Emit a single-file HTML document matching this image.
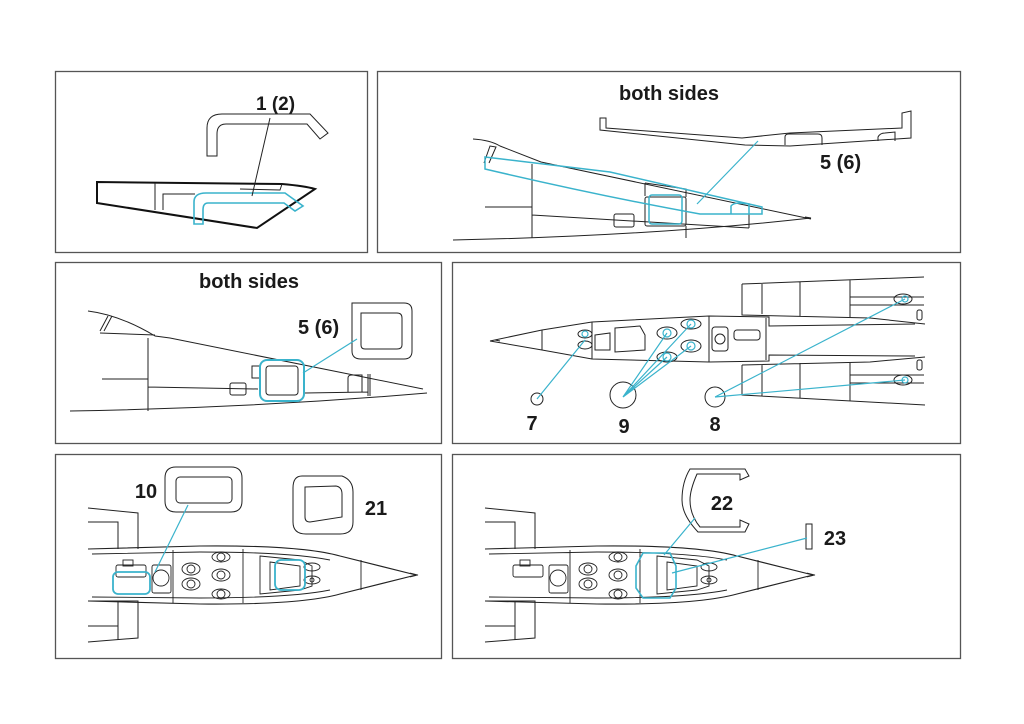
<!DOCTYPE html>
<html><head><meta charset="utf-8"><style>
html,body{margin:0;padding:0;background:#fff;}
svg{display:block}
text{font-family:"Liberation Sans",Arial,sans-serif;font-weight:bold;fill:#1a1a1a}
</style></head><body>
<svg width="1024" height="724" viewBox="0 0 1024 724" xmlns="http://www.w3.org/2000/svg">
<defs>
<g id="top">
  <!-- pods -->
  <path d="M88,508 L138,513 L138,549 M88,522 L118,522 L118,549 M88,601 L138,601 L138,638 L88,642 M118,601 L118,640 M88,626 L118,626" fill="none" stroke="#222" stroke-width="1"/>
  <!-- fuselage -->
  <path d="M88,549 L200,546 Q300,545 340,556 L416,575 L340,594 Q300,605 200,604 L88,601" fill="none" stroke="#222" stroke-width="1.1"/>
  <path d="M92,554 L200,552 Q290,552 330,560 M92,597 L200,598 Q290,598 330,590 M173,550 L173,603 M243,549 L243,603 M361,560 L361,590 M410,573 L418,575 L410,577" fill="none" stroke="#222" stroke-width="0.9"/>
  <path d="M260,556 L300,560 L312,566 L312,586 L300,590 L260,594 Z M270,562 L300,566 L300,586 L270,590 Z" fill="none" stroke="#222" stroke-width="0.9"/>
  <g fill="none" stroke="#222" stroke-width="0.9">
    <ellipse cx="221" cy="557" rx="9" ry="5"/><ellipse cx="221" cy="557" rx="4" ry="4"/>
    <ellipse cx="191" cy="569" rx="9" ry="6"/><ellipse cx="191" cy="569" rx="4" ry="4"/>
    <ellipse cx="221" cy="575" rx="9" ry="6"/><ellipse cx="221" cy="575" rx="4" ry="4"/>
    <ellipse cx="191" cy="584" rx="9" ry="6"/><ellipse cx="191" cy="584" rx="4" ry="4"/>
    <ellipse cx="221" cy="594" rx="9" ry="5"/><ellipse cx="221" cy="594" rx="4" ry="4"/>
    <ellipse cx="312" cy="567" rx="8" ry="4"/><ellipse cx="312" cy="580" rx="8" ry="4"/><circle cx="312" cy="580" r="2"/>
    <circle cx="161" cy="578" r="8"/>
    <rect x="152" y="565" width="19" height="28" rx="2"/>
    <rect x="116" y="565" width="30" height="12" rx="2"/>
    <rect x="123" y="560" width="10" height="6"/>
  </g>
</g>
</defs>

<!-- panel frames -->
<g fill="none" stroke="#555" stroke-width="1.3">
<rect x="55.5" y="71.5" width="312" height="181"/>
<rect x="377.5" y="71.5" width="583" height="181"/>
<rect x="55.5" y="262.5" width="386" height="181"/>
<rect x="452.5" y="262.5" width="508" height="181"/>
<rect x="55.5" y="454.5" width="386" height="204"/>
<rect x="452.5" y="454.5" width="508" height="204"/>
</g>

<!-- PANEL 1 -->
<text x="256" y="110" font-size="19">1 (2)</text>
<path d="M207,156 L207,128 Q207,114 222,114 L310,114 L328,133 L320,139 L307,124 L226,124 Q217,124 217,134 L217,156 Z" fill="none" stroke="#222" stroke-width="1"/>
<path d="M97,182 L282,184 Q305,186 315,189 L257,228 L97,203 Z" fill="none" stroke="#111" stroke-width="2"/>
<path d="M155,183 L155,210 M163,210 L163,194 L195,194 M282,184 L280,190 L240,189" fill="none" stroke="#222" stroke-width="1"/>
<path d="M194,224 L194,202 Q194,193 206,193 L285,193 L303,206 L295,211 L284,203 L208,203 Q203,203 203,210 L203,224 Z" fill="none" stroke="#3ab3cc" stroke-width="1.6"/>
<line x1="270" y1="118" x2="252" y2="196" stroke="#222" stroke-width="1"/>

<!-- PANEL 2 -->
<text x="669" y="100" font-size="20" text-anchor="middle">both sides</text>
<path d="M600,118 L606,118 L606,128 L742,138 L790,133 L902,128 L902,113 L911,111 L911,138 L790,146 L745,145 L600,130 Z" fill="none" stroke="#222" stroke-width="1"/>
<path d="M785,145 L785,137 Q785,134 789,134 L818,134 Q822,134 822,138 L822,145 M878,141 L878,137 Q880,133 885,133 L895,132 L895,141" fill="none" stroke="#222" stroke-width="1"/>
<text x="820" y="169" font-size="20">5 (6)</text>
<g fill="none" stroke="#222" stroke-width="1">
<path d="M453,240 Q650,236 811,218 L805,217"/>
<path d="M473,139 Q490,140 500,146 L541,162 L811,219"/>
<path d="M484,163 L490,146 L496,147 L489,163"/>
<path d="M532,164 L532,238 M485,207 L532,207 M532,215 L749,228 M749,204 L749,228 M686,226 L686,238"/>
<rect x="614" y="214" width="20" height="13" rx="2"/>
<rect x="645" y="197" width="41" height="29" rx="2"/>
<path d="M645,183 L645,196 M645,183 L686,189 L686,197"/>
</g>
<path d="M485,157 L610,172 L762,207 L762,214 L700,214 Q600,196 485,169 Z" fill="none" stroke="#3ab3cc" stroke-width="1.5"/>
<rect x="649" y="195" width="33" height="29" rx="3" fill="none" stroke="#3ab3cc" stroke-width="1.5"/>
<path d="M731,214 L731,206 Q733,203 740,203 L749,204 L749,214" fill="none" stroke="#3ab3cc" stroke-width="1.5"/>
<line x1="758" y1="141" x2="697" y2="204" stroke="#3ab3cc" stroke-width="1.2"/>

<!-- PANEL 3 -->
<text x="249" y="288" font-size="20" text-anchor="middle">both sides</text>
<g fill="none" stroke="#222" stroke-width="1">
<path d="M70,411 Q250,408 427,393"/>
<path d="M88,311 Q120,315 155,336 L170,338 L423,389"/>
<path d="M100,331 L108,316 M104,331 L112,316 M100,333 L155,335"/>
<path d="M148,338 L148,411 M102,379 L148,379 M148,387 L258,389 M305,393 L368,392 M368,374 L368,396 M370,374 L370,396"/>
<rect x="230" y="383" width="16" height="12" rx="2"/>
<rect x="252" y="366" width="8" height="12"/>
<path d="M348,392 L348,378 Q348,375 352,375 L362,375 L362,392"/>
<path d="M352,303 L404,303 Q412,303 412,311 L412,351 Q412,359 404,359 L361,359 Q352,359 352,351 Z"/>
<path d="M361,313 L397,313 Q402,313 402,318 L402,345 Q402,349 397,349 L365,349 Q361,349 361,345 Z"/>
<rect x="266" y="366" width="32" height="29" rx="3"/>
</g>
<rect x="260" y="360" width="44" height="41" rx="7" fill="none" stroke="#3ab3cc" stroke-width="2"/>
<text x="298" y="334" font-size="20">5 (6)</text>
<line x1="357" y1="339" x2="303" y2="373" stroke="#3ab3cc" stroke-width="1.2"/>

<!-- PANEL 4 -->
<g fill="none" stroke="#222" stroke-width="1">
<path d="M490,341 L542,330 L592,322 L709,316 L769,317 L769,326 L915,324"/>
<path d="M490,341 L542,350 L592,359 L709,362 L769,361 L769,355 L915,356"/>
<path d="M495,340 L500,341 M542,330 L542,350 M592,322 L592,359 M709,316 L709,362 M766,318 L766,360"/>
<path d="M742,284 L924,277 M742,284 L742,315 L870,318 L925,324 M762,284 L762,314 M800,282 L800,316 M850,280 L850,317 M850,297 L924,297 M850,305 L924,305"/>
<path d="M742,365 L870,362 L925,357 M742,365 L742,395 L925,405 M762,365 L762,396 M800,363 L800,398 M850,362 L850,401 M850,375 L924,375 M850,383 L924,383"/>
<rect x="917" y="310" width="5" height="10" rx="2"/><rect x="917" y="360" width="5" height="10" rx="2"/>
<path d="M615,328 L640,326 L645,335 L645,350 L615,352 Z M595,335 L610,333 L610,350 L595,350 Z"/>
<rect x="712" y="327" width="16" height="24" rx="3"/><circle cx="720" cy="339" r="5"/>
<rect x="734" y="330" width="26" height="10" rx="3"/>
<ellipse cx="585" cy="334" rx="7" ry="4"/><ellipse cx="585" cy="345" rx="7" ry="4"/>
<ellipse cx="667" cy="333" rx="10" ry="6"/><ellipse cx="691" cy="324" rx="10" ry="5"/>
<ellipse cx="691" cy="346" rx="10" ry="6"/><ellipse cx="667" cy="357" rx="10" ry="5"/>
<ellipse cx="903" cy="299" rx="9" ry="5"/><ellipse cx="903" cy="380" rx="9" ry="5"/>
<circle cx="537" cy="399" r="6"/><circle cx="623" cy="395" r="13"/><circle cx="715" cy="397" r="10"/>
</g>
<g fill="none" stroke="#3ab3cc" stroke-width="1.2">
<circle cx="585" cy="334" r="3"/><circle cx="667" cy="333" r="4"/><circle cx="691" cy="324" r="4"/>
<circle cx="691" cy="346" r="4"/><circle cx="667" cy="357" r="4"/><circle cx="905" cy="299" r="3"/><circle cx="905" cy="380" r="3"/>
<path d="M537,399 L585,340 M623,397 L667,333 M623,397 L691,324 M623,397 L691,346 M623,397 L667,357 M715,397 L905,299 M715,397 L905,380"/>
</g>
<text x="532" y="430" font-size="20" text-anchor="middle">7</text>
<text x="624" y="433" font-size="20" text-anchor="middle">9</text>
<text x="715" y="431" font-size="20" text-anchor="middle">8</text>

<!-- PANEL 5 -->
<use href="#top"/>
<g fill="none" stroke="#222" stroke-width="1">
<path d="M176,467 L231,467 Q242,467 242,478 L242,501 Q242,512 231,512 L176,512 Q165,512 165,501 L165,478 Q165,467 176,467 Z"/>
<rect x="176" y="477" width="56" height="26" rx="4"/>
<path d="M302,476 L342,476 Q353,480 353,492 L353,522 Q353,534 340,534 L306,534 Q293,534 293,522 L293,488 Q293,476 302,476 Z"/>
<path d="M305,487 L336,486 Q342,487 342,494 L342,517 L310,522 Q305,522 305,517 Z"/>
</g>
<rect x="113" y="572" width="37" height="22" rx="5" fill="none" stroke="#3ab3cc" stroke-width="1.8"/>
<rect x="275" y="560" width="30" height="30" rx="6" fill="none" stroke="#3ab3cc" stroke-width="1.8"/>
<line x1="188" y1="505" x2="155" y2="572" stroke="#3ab3cc" stroke-width="1.2"/>
<text x="146" y="498" font-size="20" text-anchor="middle">10</text>
<text x="376" y="515" font-size="20" text-anchor="middle">21</text>

<!-- PANEL 6 -->
<use href="#top" transform="translate(397,0)"/>
<g fill="none" stroke="#222" stroke-width="1">
<path d="M690,469 L745,469 L749,476 L740,480 L740,474 L697,474 Q690,490 690,500 Q690,515 700,527 L740,527 L740,520 L749,524 L745,532 L698,532 Q682,515 682,500 Q682,482 690,469 Z"/>
<rect x="806" y="524" width="6" height="25"/>
</g>
<path d="M643,553 L670,553 L676,566 L676,588 L670,598 L643,598 L636,588 L636,566 Z" fill="none" stroke="#3ab3cc" stroke-width="1.6"/>
<path d="M695,518 L664,555 M807,538 L672,573" stroke="#3ab3cc" stroke-width="1.2" fill="none"/>
<text x="722" y="510" font-size="20" text-anchor="middle">22</text>
<text x="835" y="545" font-size="20" text-anchor="middle">23</text>
</svg>
</body></html>
